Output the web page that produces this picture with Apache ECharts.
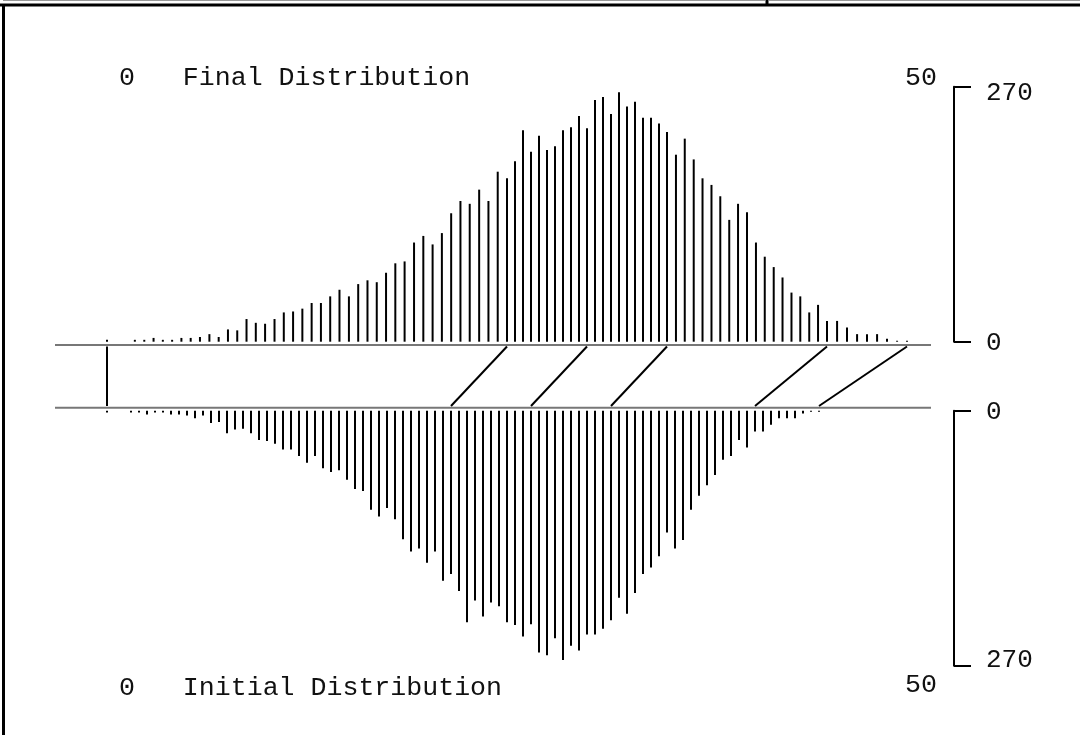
<!DOCTYPE html>
<html>
<head>
<meta charset="utf-8">
<title>Initial / Final Distribution</title>
<script src="https://cdn.jsdelivr.net/npm/echarts@6/dist/echarts.min.js"></script>
<style>
  html, body { margin: 0; padding: 0; background: #fff; }
  #chart { width: 1080px; height: 735px; }
</style>
</head>
<body>
<div id="chart"></div>
<script>
// bin positions of the initial distribution (x units)
const initialX = [0,
  1.5, 2, 2.5, 3, 3.5, 4, 4.5, 5, 5.5, 6, 6.5, 7, 7.5, 8, 8.5, 9, 9.5, 10, 10.5, 11,
  11.5, 12, 12.5, 13, 13.5, 14, 14.5, 15, 15.5, 16, 16.5, 17, 17.5, 18, 18.5, 19, 19.5, 20,
  20.5, 21, 21.5, 22, 22.5, 23, 23.5, 24, 24.5, 25, 25.5, 26, 26.5, 27, 27.5, 28, 28.5, 29,
  29.5, 30, 30.5, 31, 31.5, 32, 32.5, 33, 33.5, 34, 34.5, 35, 35.5, 36, 36.5, 37, 37.5, 38,
  38.5, 39, 39.5, 40, 40.5, 41, 41.5, 42, 42.5, 43, 43.5, 44, 44.5];

// where the same bins land in the final distribution
const finalX = [0,
  1.74, 2.33, 2.91, 3.49, 4.07, 4.65, 5.23, 5.81, 6.4, 6.98, 7.56, 8.14, 8.72, 9.3, 9.88,
  10.47, 11.05, 11.63, 12.21, 12.79, 13.37, 13.95, 14.53, 15.12, 15.7, 16.28, 16.86, 17.44,
  18.02, 18.6, 19.19, 19.77, 20.35, 20.93, 21.51, 22.09, 22.67, 23.26, 23.84, 24.42, 25,
  25.5, 26, 26.5, 27, 27.5, 28, 28.5, 29, 29.5, 30, 30.5, 31, 31.5, 32, 32.5, 33, 33.5, 34,
  34.5, 35, 35.56, 36.11, 36.67, 37.22, 37.78, 38.33, 38.89, 39.44, 40, 40.56, 41.11, 41.67,
  42.22, 42.78, 43.33, 43.89, 44.44, 45, 45.63, 46.25, 46.88, 47.5, 48.13, 48.75, 49.38, 50];

// counts per bin (same for both panels)
const counts = [2,
  2, 2, 4, 2, 2, 4, 4, 5, 8, 5,
  13, 12, 24, 20, 19, 24, 31, 32, 35, 41,
  41, 48, 55, 48, 61, 65, 63, 73, 83, 85,
  105, 112, 103, 115, 136, 149, 146, 161, 149, 180,
  173, 191, 224, 201, 218, 203, 207, 224, 227, 239,
  226, 256, 259, 241, 264, 249, 254, 237, 237, 231,
  222, 198, 215, 193, 173, 166, 154, 129, 146, 137,
  105, 90, 79, 68, 52, 48, 31, 39, 22, 22,
  15, 8, 8, 8, 3, 1, 1];

// bins joined between the two panels: [initial x, final x]
const links = [[0, 0], [21.5, 25], [26.5, 30], [31.5, 35], [40.5, 45], [44.5, 50]];

const xMin = 0;
const xMax = 50;
const countMax = 270;

const font = "'Liberation Mono', monospace";
const ink = '#111';

const chart = echarts.init(document.getElementById('chart'));

const hiddenX = (gridIndex) => ({
  gridIndex, type: 'value', min: xMin, max: xMax, show: false
});

// bracket-style count axis on the right; the 270 label sits a little inside the bracket
const bracketY = (gridIndex, inverse) => ({
  gridIndex,
  type: 'value',
  min: 0,
  max: countMax,
  interval: countMax,
  inverse,
  position: 'right',
  offset: 47,
  axisLine: { show: true, onZero: false, lineStyle: { color: '#000', width: 2 } },
  axisTick: { show: true, length: 17, lineStyle: { color: '#000', width: 2 } },
  axisLabel: {
    margin: 32, fontFamily: font, fontSize: 26, color: ink,
    formatter: (v) => (v === countMax ? '{far|' + v + '}' : '{near|' + v + '}'),
    rich: {
      near: { fontFamily: font, fontSize: 26, color: ink, padding: [3, 0, 0, 0] },
      far: {
        fontFamily: font, fontSize: 26, color: ink,
        padding: inverse ? [0, 0, 12, 0] : [13, 0, 0, 0]
      }
    }
  },
  splitLine: { show: false }
});

const finalData = finalX.map((x, i) => [x, counts[i]]);
const initialData = initialX.map((x, i) => [x, counts[i]]);

const label = (text, x, y) => ({
  type: 'text',
  style: { text, x, y, font: '26.6px ' + font, fill: ink, textVerticalAlign: 'middle' }
});

const line = (x1, y1, x2, y2, color, width) => ({
  type: 'line',
  shape: { x1, y1, x2, y2 },
  style: { stroke: color, lineWidth: width }
});

const option = {
  animation: false,
  backgroundColor: '#fff',
  grid: [
    { left: 107, width: 800, top: 86.7, height: 255 },
    { left: 107, width: 800, top: 410.7, height: 255 },
    { left: 107, width: 800, top: 346.5, height: 59.5 }
  ],
  xAxis: [hiddenX(0), hiddenX(1), hiddenX(2)],
  yAxis: [
    bracketY(0, false),
    bracketY(1, true),
    { gridIndex: 2, type: 'value', min: 0, max: 1, show: false }
  ],
  series: [
    {
      name: 'Final Distribution',
      type: 'bar',
      xAxisIndex: 0, yAxisIndex: 0,
      barWidth: 2,
      itemStyle: { color: '#000' },
      data: finalData
    },
    {
      name: 'Initial Distribution',
      type: 'bar',
      xAxisIndex: 1, yAxisIndex: 1,
      barWidth: 2,
      itemStyle: { color: '#000' },
      data: initialData
    },
    {
      name: 'mapping',
      type: 'custom',
      xAxisIndex: 2, yAxisIndex: 2,
      data: links,
      renderItem: (params, api) => {
        const top = api.coord([api.value(1), 1]);
        const bottom = api.coord([api.value(0), 0]);
        return {
          type: 'line',
          shape: { x1: top[0], y1: top[1], x2: bottom[0], y2: bottom[1] },
          style: { stroke: '#000', lineWidth: 2 }
        };
      }
    }
  ],
  graphic: [
    // frame
    line(3, 0.5, 765, 0.5, '#999', 1),
    line(769, 0.5, 1080, 0.5, '#999', 1),
    line(0, 5, 1080, 5, '#000', 3),
    line(767, 0, 767, 5, '#000', 3),
    line(3.5, 5, 3.5, 735, '#000', 3),
    // baselines
    line(55, 345, 931, 345, '#777', 2),
    line(55, 407.7, 931, 407.7, '#777', 2),
    // panel captions
    label('0   Final Distribution', 119, 78),
    label('50', 905, 78),
    label('0   Initial Distribution', 119, 688),
    label('50', 905, 685)
  ]
};

chart.setOption(option);
</script>
</body>
</html>
